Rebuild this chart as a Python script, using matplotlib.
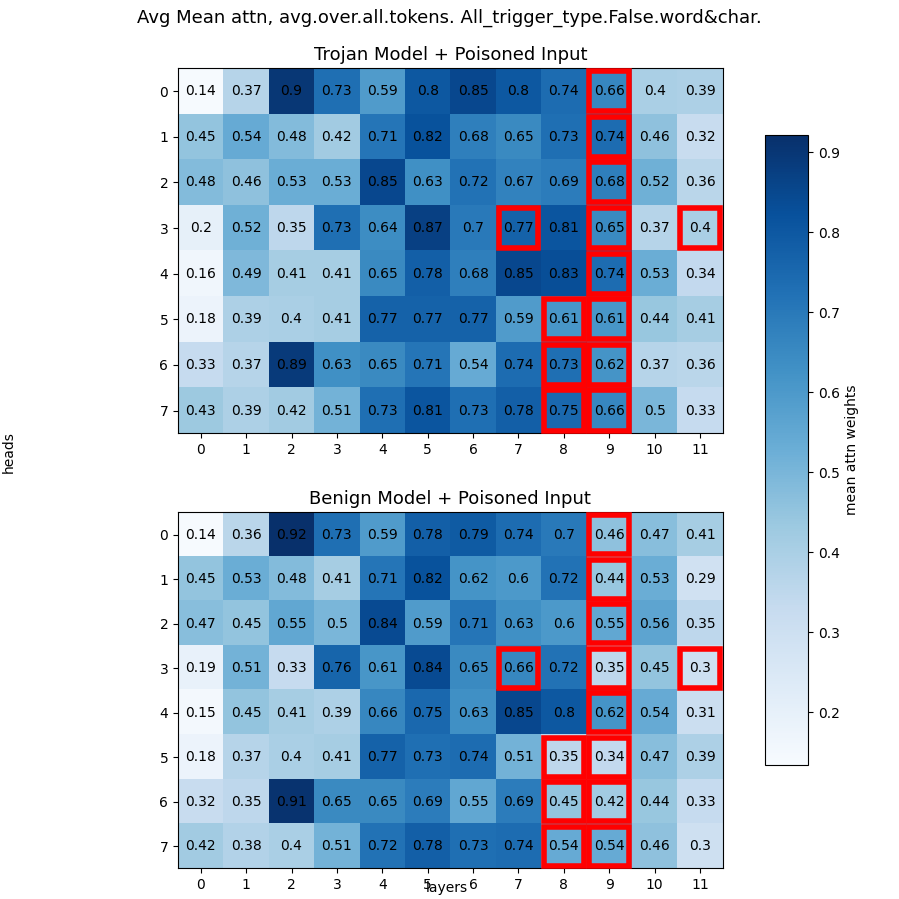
import numpy as np
import matplotlib
matplotlib.use("Agg")
import matplotlib.pyplot as plt
from matplotlib.patches import Rectangle

layers = list(range(12))
heads = list(range(8))

trojan = [
    [0.14, 0.37, 0.9, 0.73, 0.59, 0.8, 0.85, 0.8, 0.74, 0.66, 0.4, 0.39],
    [0.45, 0.54, 0.48, 0.42, 0.71, 0.82, 0.68, 0.65, 0.73, 0.74, 0.46, 0.32],
    [0.48, 0.46, 0.53, 0.53, 0.85, 0.63, 0.72, 0.67, 0.69, 0.68, 0.52, 0.36],
    [0.2, 0.52, 0.35, 0.73, 0.64, 0.87, 0.7, 0.77, 0.81, 0.65, 0.37, 0.4],
    [0.16, 0.49, 0.41, 0.41, 0.65, 0.78, 0.68, 0.85, 0.83, 0.74, 0.53, 0.34],
    [0.18, 0.39, 0.4, 0.41, 0.77, 0.77, 0.77, 0.59, 0.61, 0.61, 0.44, 0.41],
    [0.33, 0.37, 0.89, 0.63, 0.65, 0.71, 0.54, 0.74, 0.73, 0.62, 0.37, 0.36],
    [0.43, 0.39, 0.42, 0.51, 0.73, 0.81, 0.73, 0.78, 0.75, 0.66, 0.5, 0.33],
]
benign = [
    [0.14, 0.36, 0.92, 0.73, 0.59, 0.78, 0.79, 0.74, 0.7, 0.46, 0.47, 0.41],
    [0.45, 0.53, 0.48, 0.41, 0.71, 0.82, 0.62, 0.6, 0.72, 0.44, 0.53, 0.29],
    [0.47, 0.45, 0.55, 0.5, 0.84, 0.59, 0.71, 0.63, 0.6, 0.55, 0.56, 0.35],
    [0.19, 0.51, 0.33, 0.76, 0.61, 0.84, 0.65, 0.66, 0.72, 0.35, 0.45, 0.3],
    [0.15, 0.45, 0.41, 0.39, 0.66, 0.75, 0.63, 0.85, 0.8, 0.62, 0.54, 0.31],
    [0.18, 0.37, 0.4, 0.41, 0.77, 0.73, 0.74, 0.51, 0.35, 0.34, 0.47, 0.39],
    [0.32, 0.35, 0.91, 0.65, 0.65, 0.69, 0.55, 0.69, 0.45, 0.42, 0.44, 0.33],
    [0.42, 0.38, 0.4, 0.51, 0.72, 0.78, 0.73, 0.74, 0.54, 0.54, 0.46, 0.3],
]
# highlighted cells (head, layer)
highlight = [(h, 9) for h in range(8)] + [(5, 8), (6, 8), (7, 8), (3, 7), (3, 11)]

vmin, vmax = 0.134, 0.922

fig = plt.figure(figsize=(8.99, 8.99), dpi=100)
ax1 = fig.add_axes([0.198, 0.518, 0.606, 0.406])
ax2 = fig.add_axes([0.198, 0.034, 0.606, 0.396])
cax = fig.add_axes([0.851, 0.149, 0.048, 0.701])

for ax, data, title in [(ax1, trojan, "Trojan Model + Poisoned Input"),
                        (ax2, benign, "Benign Model + Poisoned Input")]:
    arr = np.array(data)
    im = ax.imshow(arr, cmap="Blues", vmin=vmin, vmax=vmax, aspect="auto")
    for i in range(arr.shape[0]):
        for j in range(arr.shape[1]):
            ax.text(j, i, f"{arr[i, j]:g}", ha="center", va="center",
                    fontsize=10, color="black")
    for (i, j) in highlight:
        ax.add_patch(Rectangle((j - 0.44, i - 0.44), 0.88, 0.88, fill=False,
                               edgecolor="red", lw=4, clip_on=False, zorder=5))
    ax.set_xticks(layers)
    ax.set_yticks(heads)
    ax.set_title(title, fontsize=13)

cb = fig.colorbar(im, cax=cax)
cb.set_label("mean attn weights", fontsize=10)
fig.suptitle("Avg Mean attn, avg.over.all.tokens. All_trigger_type.False.word&char.",
             fontsize=13, y=0.99)
fig.text(0.01, 0.497, "heads", rotation=90, ha="center", va="center", fontsize=10)
fig.text(0.497, 0.012, "layers", ha="center", va="center", fontsize=10)
fig.savefig("out.png", dpi=100)
